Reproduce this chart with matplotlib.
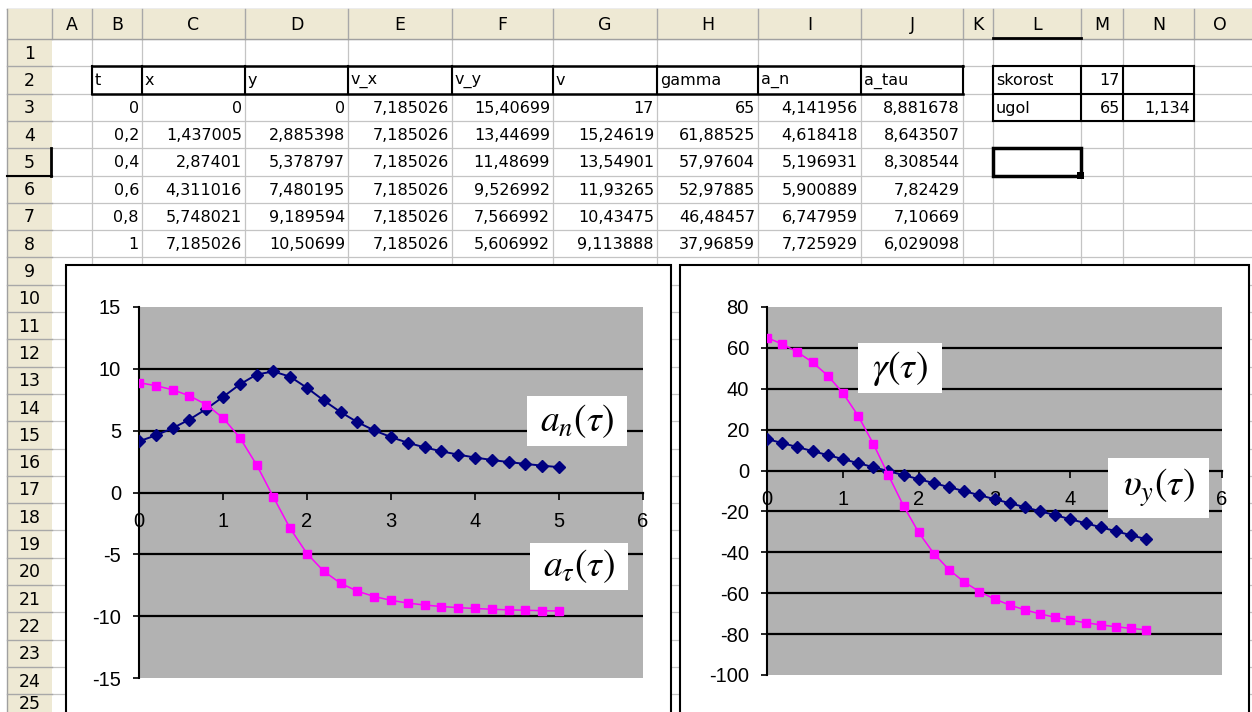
import numpy as np
import matplotlib
matplotlib.use("Agg")
import matplotlib.pyplot as plt
from matplotlib.patches import Rectangle

plt.rcParams['mathtext.fontset'] = 'stix'
plt.rcParams['axes.unicode_minus'] = False

W, H = 1252, 712

# ---- spreadsheet content ----
col_names = ['A', 'B', 'C', 'D', 'E', 'F', 'G', 'H', 'I', 'J', 'K', 'L', 'M', 'N', 'O']
col_edges = [52, 92, 142, 245, 348, 452, 553, 657, 758, 861, 963, 993, 1081, 1123, 1194, 1265]
row_top = 39
row_h = 27.3
n_rows = 25

headers = ['t', 'x', 'y', 'v_x', 'v_y', 'v', 'gamma', 'a_n', 'a_tau']
table_rows = [
    ['0', '0', '0', '7,185026', '15,40699', '17', '65', '4,141956', '8,881678'],
    ['0,2', '1,437005', '2,885398', '7,185026', '13,44699', '15,24619', '61,88525', '4,618418', '8,643507'],
    ['0,4', '2,87401', '5,378797', '7,185026', '11,48699', '13,54901', '57,97604', '5,196931', '8,308544'],
    ['0,6', '4,311016', '7,480195', '7,185026', '9,526992', '11,93265', '52,97885', '5,900889', '7,82429'],
    ['0,8', '5,748021', '9,189594', '7,185026', '7,566992', '10,43475', '46,48457', '6,747959', '7,10669'],
    ['1', '7,185026', '10,50699', '7,185026', '5,606992', '9,113888', '37,96859', '7,725929', '6,029098'],
]
param_names = ['skorost', 'ugol']
param_vals = ['17', '65']
param_extra = ['', '1,134']

# ---- chart data ----
t = [0, 0.2, 0.4, 0.6, 0.8, 1.0, 1.2, 1.4, 1.6, 1.8, 2.0, 2.2, 2.4,
     2.6, 2.8, 3.0, 3.2, 3.4, 3.6, 3.8, 4.0, 4.2, 4.4, 4.6, 4.8, 5.0]
a_n = [4.14, 4.62, 5.20, 5.90, 6.75, 7.73, 8.74, 9.54, 9.79, 9.36, 8.46, 7.44, 6.50,
       5.69, 5.02, 4.48, 4.02, 3.65, 3.33, 3.06, 2.83, 2.63, 2.46, 2.31, 2.17, 2.05]
a_tau = [8.88, 8.64, 8.31, 7.82, 7.11, 6.03, 4.44, 2.24, -0.37, -2.91, -4.94, -6.37, -7.34,
         -7.98, -8.41, -8.72, -8.94, -9.10, -9.22, -9.31, -9.38, -9.44, -9.49, -9.52, -9.56, -9.58]
gamma = [65.0, 61.89, 57.98, 52.98, 46.48, 37.97, 26.91, 13.21, -2.18, -17.26, -30.27, -40.58, -48.47,
         -54.50, -59.16, -62.82, -65.76, -68.14, -70.12, -71.78, -73.20, -74.41, -75.47, -76.39, -77.20, -77.93]
v_y = [15.41, 13.45, 11.49, 9.53, 7.57, 5.61, 3.65, 1.69, -0.27, -2.23, -4.19, -6.15, -8.11,
       -10.07, -12.03, -13.99, -15.95, -17.91, -19.87, -21.83, -23.79, -25.75, -27.71, -29.67, -31.63, -33.59]


def fr(x0, y0, x1, y1):
    return [x0 / W, 1 - y1 / H, (x1 - x0) / W, (y1 - y0) / H]


fig = plt.figure(figsize=(W / 100, H / 100), dpi=100)

bg = fig.add_axes([0, 0, 1, 1])
bg.set_xlim(0, W)
bg.set_ylim(H, 0)
bg.axis('off')

hdr_col = '#EEE9D4'
grid_col = '#C4C4C4'
cell_font = dict(family='DejaVu Sans', fontsize=11.5, color='black', va='center')

row_edges = [row_top + i * row_h for i in range(n_rows + 1)]

# sheet gridlines
for x in col_edges[1:]:
    bg.plot([x, x], [row_top, H], color=grid_col, lw=0.9, zorder=1)
for y in row_edges:
    bg.plot([col_edges[0], W], [y, y], color=grid_col, lw=0.9, zorder=1)

# column / row header bars
bg.plot([7, W], [8.5, 8.5], color='#A0A0A0', lw=1, zorder=2)
bg.add_patch(Rectangle((7, 9), W - 7, row_top - 9, facecolor=hdr_col, edgecolor='none', zorder=2))
bg.add_patch(Rectangle((7, row_top), 45, H - row_top, facecolor=hdr_col, edgecolor='none', zorder=2))
for i, name in enumerate(col_names):
    x0, x1 = col_edges[i], col_edges[i + 1]
    bg.plot([x0, x0], [9, row_top], color='#A8A8A8', lw=1, zorder=3)
    bg.text((x0 + x1) / 2 if i < 14 else 1220, (9 + row_top) / 2 + 1, name, ha='center',
            **dict(cell_font, fontsize=12.5), zorder=4)
bg.plot([7, W], [row_top, row_top], color='#A0A0A0', lw=1, zorder=3)
bg.plot([7, 7], [9, H], color='#A0A0A0', lw=1, zorder=3)
for i in range(n_rows):
    y0, y1 = row_edges[i], row_edges[i + 1]
    bg.plot([7, 52], [y1, y1], color='#A8A8A8', lw=1, zorder=3)
    yc = min((y0 + y1) / 2 + 1, H - 8)
    bg.text(29.5, yc, str(i + 1), ha='center', **dict(cell_font, fontsize=12.5), zorder=4)
# active cell indicators
bg.plot([993, 1081], [row_top - 1, row_top - 1], color='black', lw=2, zorder=4)
bg.plot([51, 51], [row_edges[4], row_edges[5]], color='black', lw=2, zorder=4)
bg.plot([7, 52], [row_edges[5], row_edges[5]], color='black', lw=1.5, zorder=4)

# table header row with borders
yh0, yh1 = row_edges[1], row_edges[2]
bg.plot([92, 963], [yh0, yh0], color='black', lw=1.8, zorder=5)
bg.plot([92, 963], [yh1, yh1], color='black', lw=1.8, zorder=5)
for k in range(10):
    x = col_edges[1 + k]
    bg.plot([x, x], [yh0, yh1], color='black', lw=1.5, zorder=5)
for k, h in enumerate(headers):
    bg.text(col_edges[1 + k] + 3, (yh0 + yh1) / 2 + 1, h, ha='left', **cell_font, zorder=5)

# table values
for r, vals in enumerate(table_rows):
    y0, y1 = row_edges[2 + r], row_edges[3 + r]
    for k, v in enumerate(vals):
        bg.text(col_edges[2 + k] - 3, (y0 + y1) / 2 + 1, v, ha='right', **cell_font, zorder=5)

# parameter box L2:N3
py0, py1, py2 = row_edges[1], row_edges[2], row_edges[3]
for y in (py0, py1, py2):
    bg.plot([993, 1194], [y, y], color='black', lw=1.5, zorder=5)
for x in (993, 1081, 1123, 1194):
    bg.plot([x, x], [py0, py2], color='black', lw=1.5, zorder=5)
for r in range(2):
    yc = (row_edges[1 + r] + row_edges[2 + r]) / 2 + 1
    bg.text(996, yc, param_names[r], ha='left', **cell_font, zorder=5)
    bg.text(1120, yc, param_vals[r], ha='right', **cell_font, zorder=5)
    bg.text(1190, yc, param_extra[r], ha='right', **cell_font, zorder=5)

# selected cell L5
bg.add_patch(Rectangle((993, row_edges[4]), 88, row_h, facecolor='none', edgecolor='black', lw=2.5, zorder=6))
bg.add_patch(Rectangle((1077, row_edges[5] - 4), 7, 7, facecolor='black', edgecolor='none', zorder=7))

# chart frames
bg.add_patch(Rectangle((66, 265), 605, 460, facecolor='white', edgecolor='black', lw=1.5, zorder=8))
bg.add_patch(Rectangle((680, 265), 569, 460, facecolor='white', edgecolor='black', lw=1.5, zorder=8))

tick_font = dict(family='Liberation Sans', size=14.5)
plot_gray = '#B2B2B2'
navy = '#000080'
magenta = '#FF00FF'


def make_chart(rect, ylim, ystep, s_dark, s_pink):
    ax = fig.add_axes(fr(*rect), zorder=5)
    ax.set_facecolor(plot_gray)
    ax.set_xlim(0, 6)
    ax.set_ylim(*ylim)
    yt = np.arange(ylim[0], ylim[1] + ystep / 2, ystep)
    for y in yt[1:-1]:
        if y != 0:
            ax.axhline(y, color='black', lw=1.6, zorder=1)
    for s in ('top', 'right'):
        ax.spines[s].set_visible(False)
    ax.spines['left'].set_linewidth(1.5)
    ax.spines['bottom'].set_position(('data', 0))
    ax.spines['bottom'].set_linewidth(1.6)
    ax.set_yticks(yt)
    ax.set_xticks(range(7))
    ax.tick_params(axis='y', direction='out', length=4, width=1.2, pad=9)
    ax.tick_params(axis='x', direction='out', length=5, width=1.2, pad=9)
    for lab in ax.get_xticklabels() + ax.get_yticklabels():
        lab.set_fontfamily(tick_font['family'])
        lab.set_fontsize(tick_font['size'])
    ax.plot(t, s_dark, color=navy, lw=1.4, marker='D', ms=6.3, mec=navy, mfc=navy, zorder=3)
    ax.plot(t, s_pink, color=magenta, lw=1.1, marker='s', ms=6.0, mec=magenta, mfc=magenta, zorder=3)
    ax.patch.set_zorder(0)
    return ax


ax1 = make_chart((139, 307, 643, 678), (-15, 15), 5, a_n, a_tau)
ax2 = make_chart((767, 307, 1222, 675), (-100, 80), 20, v_y, gamma)
# the "5" label of the right chart sits under the upsilon label box
ax2.get_xticklabels()[5].set_visible(False)

# overlay with label boxes
top = fig.add_axes([0, 0, 1, 1], zorder=20)
top.set_xlim(0, W)
top.set_ylim(H, 0)
top.axis('off')
top.patch.set_visible(False)

labels = [
    (527, 396, 627, 446, r'$a_n(\tau)$'),
    (530, 543, 628, 590, r'$a_\tau(\tau)$'),
    (858, 343, 942, 393, r'$\gamma(\tau)$'),
    (1108, 458, 1209, 518, r'$\upsilon_y(\tau)$'),
]
for x0, y0, x1, y1, txt in labels:
    top.add_patch(Rectangle((x0, y0), x1 - x0, y1 - y0, facecolor='white', edgecolor='none'))
    top.text((x0 + x1) / 2, (y0 + y1) / 2, txt, ha='center', va='center', fontsize=27)

fig.savefig('out.png', dpi=100)
